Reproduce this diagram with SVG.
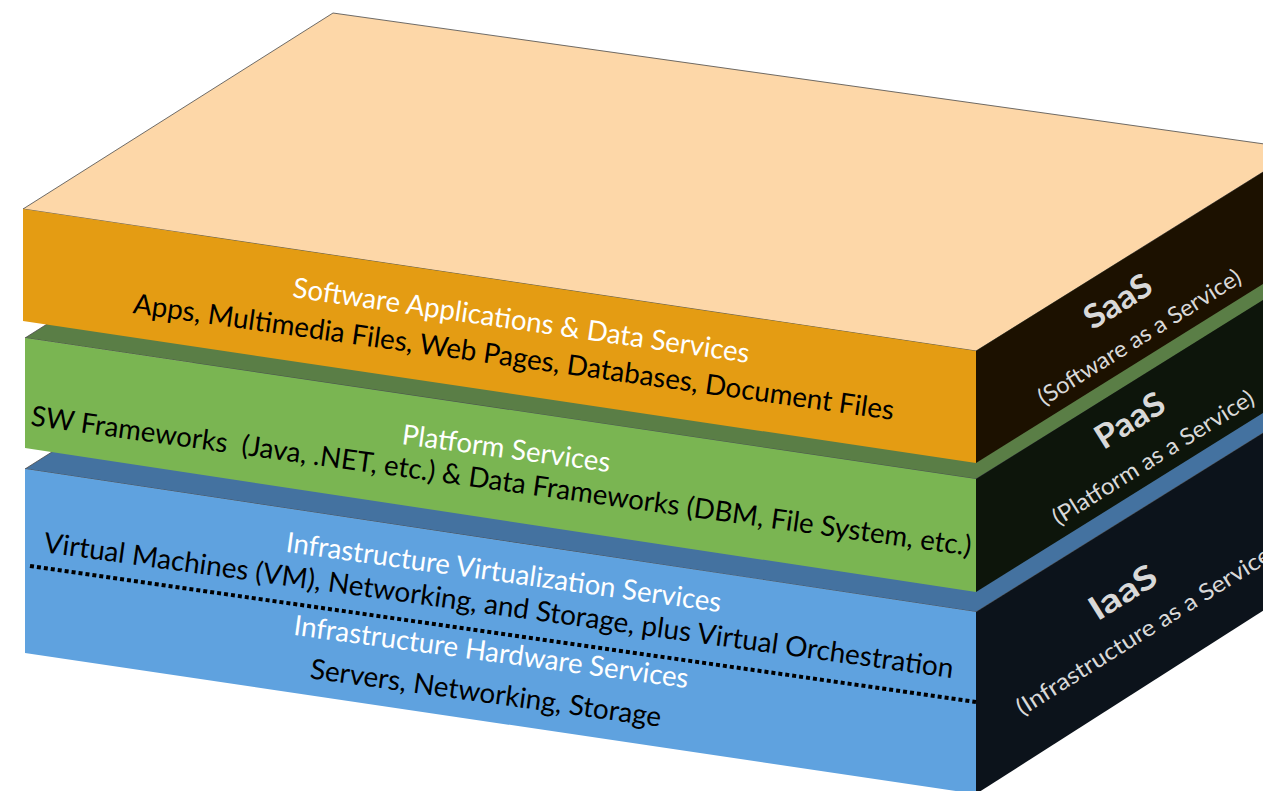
<svg xmlns="http://www.w3.org/2000/svg" width="1263" height="791" viewBox="0 0 1263 791">
<style>
.top{stroke:#4a4a4a;stroke-width:0.8;stroke-linejoin:round}
.t{font-family:Lato,"Open Sans","Liberation Sans",sans-serif;font-size:28px;text-anchor:middle}
.w{fill:#ffffff}
.k{fill:#000000}
.lbl{font-family:Lato,"Open Sans","Liberation Sans",sans-serif;text-anchor:middle;fill:#d9d9d9}
.big{font-size:33px;font-weight:bold}
.sub{font-size:23px}
</style>
<rect width="1263" height="791" fill="#ffffff"/>
<g id="layer-iaas">
  <polygon class="top" points="25,469 335,273 1300,410 976,612" fill="#4472a0"/>
  <polygon points="25,469 976,612 976,794 25,653" fill="#5fa2df"/>
  <polygon points="976,612 1300,410 1300,587 976,794" fill="#0c131b"/>
  <line x1="30" y1="566" x2="976" y2="702" stroke="#000" stroke-width="4" stroke-dasharray="4 3"/>
  <text class="t w" transform="translate(502.5,582) rotate(7.9)" textLength="439" lengthAdjust="spacingAndGlyphs">Infrastructure Virtualization Services</text>
  <text class="t k" transform="translate(497.5,615) rotate(7.9)" textLength="918" lengthAdjust="spacingAndGlyphs">Virtual Machines (VM), Networking, and Storage, plus Virtual Orchestration</text>
  <text class="t w" transform="translate(490,661.5) rotate(7.7)" textLength="398" lengthAdjust="spacingAndGlyphs">Infrastructure Hardware Services</text>
  <text class="t k" transform="translate(484.5,702.5) rotate(7.9)" textLength="354" lengthAdjust="spacingAndGlyphs">Servers, Networking, Storage</text>
  <text class="lbl big" transform="translate(1128.8,602) rotate(-32)" textLength="74" lengthAdjust="spacingAndGlyphs">IaaS</text>
  <text class="lbl sub" transform="translate(1150.4,636) rotate(-32)" textLength="302" lengthAdjust="spacingAndGlyphs">(Infrastructure as a Service)</text>
</g>
<g id="layer-paas">
  <polygon class="top" points="25,338 335,142 1300,278 976,479" fill="#5a7e46"/>
  <polygon points="25,338 976,479 976,592 25,448" fill="#7ab552"/>
  <polygon points="976,479 1300,277 1300,390 976,592" fill="#0d150b"/>
  <text class="t w" transform="translate(505,458) rotate(7.7)" textLength="210" lengthAdjust="spacingAndGlyphs">Platform Services</text>
  <text class="t k" xml:space="preserve" transform="translate(500,490.5) rotate(7.9)" textLength="949" lengthAdjust="spacingAndGlyphs">SW Frameworks  (Java, .NET, etc.) &amp; Data Frameworks (DBM, File System, etc.)</text>
  <text class="lbl big" transform="translate(1135.8,430) rotate(-32)" textLength="76" lengthAdjust="spacingAndGlyphs">PaaS</text>
  <text class="lbl sub" transform="translate(1157.4,464.2) rotate(-32)" textLength="233" lengthAdjust="spacingAndGlyphs">(Platform as a Service)</text>
</g>
<g id="layer-saas">
  <polygon class="top" points="23,209 333,13 1300,149 976,351" fill="#fdd7a8"/>
  <polygon points="23,209 976,351 976,463 23,321" fill="#e49c13"/>
  <polygon points="976,351 1300,149 1300,261 976,463" fill="#1c1100"/>
  <text class="t w" transform="translate(520,330) rotate(8.2)" textLength="461" lengthAdjust="spacingAndGlyphs">Software Applications &amp; Data Services</text>
  <text class="t k" transform="translate(512.5,366.5) rotate(8.0)" textLength="768" lengthAdjust="spacingAndGlyphs">Apps, Multimedia Files, Web Pages, Databases, Document Files</text>
  <text class="lbl big" transform="translate(1123.9,311) rotate(-32)" textLength="74" lengthAdjust="spacingAndGlyphs">SaaS</text>
  <text class="lbl sub" transform="translate(1143.6,343.8) rotate(-32)" textLength="235" lengthAdjust="spacingAndGlyphs">(Software as a Service)</text>
</g>
</svg>
